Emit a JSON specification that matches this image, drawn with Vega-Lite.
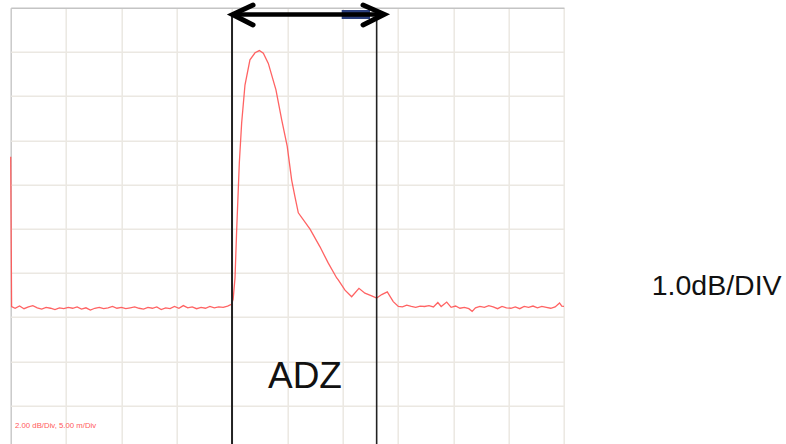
{
  "$schema": "https://vega.github.io/schema/vega-lite/v6.json",
  "width": 553.3,
  "height": 442,
  "autosize": {"type": "none"},
  "padding": {"left": 10.7, "top": 7.7, "right": 222, "bottom": 0},
  "background": "white",
  "config": {"view": {"stroke": null}},
  "datasets": {
    "trace": [
      {"x": 0.0, "d": 6.63}, {"x": 0.08, "d": 3.24}, {"x": 0.4, "d": 3.2}, {"x": 0.8, "d": 3.25}, {"x": 1.2, "d": 3.19},
      {"x": 1.6, "d": 3.23}, {"x": 2.0, "d": 3.26}, {"x": 2.4, "d": 3.21}, {"x": 2.8, "d": 3.18}, {"x": 3.2, "d": 3.22},
      {"x": 3.6, "d": 3.2}, {"x": 4.0, "d": 3.17}, {"x": 4.4, "d": 3.21}, {"x": 4.8, "d": 3.19}, {"x": 5.2, "d": 3.22},
      {"x": 5.6, "d": 3.2}, {"x": 6.0, "d": 3.23}, {"x": 6.4, "d": 3.18}, {"x": 6.8, "d": 3.21}, {"x": 7.2, "d": 3.16},
      {"x": 7.6, "d": 3.2}, {"x": 8.0, "d": 3.22}, {"x": 8.4, "d": 3.19}, {"x": 8.8, "d": 3.21}, {"x": 9.2, "d": 3.24},
      {"x": 9.6, "d": 3.2}, {"x": 10.0, "d": 3.22}, {"x": 10.4, "d": 3.19}, {"x": 10.8, "d": 3.21}, {"x": 11.2, "d": 3.23},
      {"x": 11.6, "d": 3.2}, {"x": 12.0, "d": 3.18}, {"x": 12.4, "d": 3.22}, {"x": 12.8, "d": 3.2}, {"x": 13.2, "d": 3.23},
      {"x": 13.6, "d": 3.17}, {"x": 14.0, "d": 3.21}, {"x": 14.4, "d": 3.19}, {"x": 14.8, "d": 3.24}, {"x": 15.2, "d": 3.2},
      {"x": 15.6, "d": 3.26}, {"x": 16.0, "d": 3.21}, {"x": 16.4, "d": 3.23}, {"x": 16.8, "d": 3.19}, {"x": 17.2, "d": 3.22},
      {"x": 17.6, "d": 3.2}, {"x": 18.0, "d": 3.24}, {"x": 18.4, "d": 3.21}, {"x": 18.8, "d": 3.23}, {"x": 19.2, "d": 3.22},
      {"x": 19.6, "d": 3.25}, {"x": 19.95, "d": 3.29}, {"x": 20.1, "d": 3.4}, {"x": 20.27, "d": 3.885}, {"x": 20.42, "d": 4.97},
      {"x": 20.66, "d": 6.49}, {"x": 20.87, "d": 7.39}, {"x": 21.17, "d": 8.25}, {"x": 21.62, "d": 8.82}, {"x": 22.08, "d": 8.98},
      {"x": 22.47, "d": 9.03}, {"x": 22.83, "d": 8.97}, {"x": 23.28, "d": 8.74}, {"x": 23.97, "d": 8.14}, {"x": 24.49, "d": 7.46},
      {"x": 24.99, "d": 6.86}, {"x": 25.39, "d": 6.1}, {"x": 25.69, "d": 5.72}, {"x": 25.99, "d": 5.36}, {"x": 27.05, "d": 4.99},
      {"x": 27.95, "d": 4.59}, {"x": 28.7, "d": 4.22}, {"x": 29.46, "d": 3.885}, {"x": 29.6, "d": 3.84}, {"x": 30.21, "d": 3.61},
      {"x": 30.81, "d": 3.46}, {"x": 31.47, "d": 3.65}, {"x": 32.01, "d": 3.54}, {"x": 32.62, "d": 3.48}, {"x": 33.07, "d": 3.43},
      {"x": 33.53, "d": 3.51}, {"x": 34.03, "d": 3.57}, {"x": 34.57, "d": 3.35}, {"x": 35.03, "d": 3.24}, {"x": 35.4, "d": 3.23},
      {"x": 35.79, "d": 3.27}, {"x": 36.2, "d": 3.24}, {"x": 36.6, "d": 3.22}, {"x": 37.0, "d": 3.25}, {"x": 37.4, "d": 3.24},
      {"x": 37.8, "d": 3.26}, {"x": 38.2, "d": 3.23}, {"x": 38.6, "d": 3.33}, {"x": 38.9, "d": 3.24}, {"x": 39.4, "d": 3.34},
      {"x": 39.8, "d": 3.22}, {"x": 40.2, "d": 3.25}, {"x": 40.6, "d": 3.2}, {"x": 41.0, "d": 3.22}, {"x": 41.4, "d": 3.19},
      {"x": 41.7, "d": 3.13}, {"x": 42.0, "d": 3.21}, {"x": 42.4, "d": 3.24}, {"x": 42.8, "d": 3.22}, {"x": 43.2, "d": 3.26},
      {"x": 43.6, "d": 3.23}, {"x": 44.0, "d": 3.19}, {"x": 44.4, "d": 3.24}, {"x": 44.8, "d": 3.21}, {"x": 45.2, "d": 3.2},
      {"x": 45.6, "d": 3.23}, {"x": 46.0, "d": 3.19}, {"x": 46.4, "d": 3.24}, {"x": 46.8, "d": 3.22}, {"x": 47.2, "d": 3.25},
      {"x": 47.6, "d": 3.21}, {"x": 48.0, "d": 3.24}, {"x": 48.4, "d": 3.22}, {"x": 48.8, "d": 3.2}, {"x": 49.2, "d": 3.23},
      {"x": 49.6, "d": 3.32}, {"x": 49.8, "d": 3.25}, {"x": 50.0, "d": 3.24}
    ],
    "cursors": [
      {"x": 20.0, "top": 9.81, "bottom": -0.3, "c": "left"},
      {"x": 33.07, "top": 9.78, "bottom": -0.3, "c": "right"}
    ],
    "heads": [
      {"g": "L", "o": 1, "x": 21.9, "d": 10.06},
      {"g": "L", "o": 2, "x": 20.05, "d": 9.846},
      {"g": "L", "o": 3, "x": 21.9, "d": 9.61},
      {"g": "R", "o": 1, "x": 31.84, "d": 10.06},
      {"g": "R", "o": 2, "x": 33.75, "d": 9.85},
      {"g": "R", "o": 3, "x": 31.84, "d": 9.61}
    ]
  },
  "layer": [
    {
      "data": {"name": "trace"},
      "mark": {"type": "line", "color": "#ff5252", "strokeWidth": 1.3, "opacity": 0.9},
      "encoding": {
        "x": {
          "field": "x", "type": "quantitative",
          "scale": {"domain": [0, 50], "nice": false, "zero": false},
          "axis": {
            "values": [0, 5, 10, 15, 20, 25, 30, 35, 40, 45, 50],
            "labels": false, "ticks": false, "domain": false, "title": null,
            "grid": true, "gridWidth": 1.5,
            "gridColor": {"condition": {"test": "datum.value === 0", "value": "#c9c9c9"}, "value": "#ebe8e2"}
          }
        },
        "y": {
          "field": "d", "type": "quantitative",
          "scale": {"domain": [0, 10], "nice": false, "zero": false},
          "axis": {
            "values": [0, 1, 2, 3, 4, 5, 6, 7, 8, 9, 10],
            "labels": false, "ticks": false, "domain": false, "title": null,
            "grid": true, "gridWidth": 1.5,
            "gridColor": {"condition": {"test": "datum.value === 10", "value": "#c4c4c4"}, "value": "#ebe8e2"}
          }
        }
      }
    },
    {
      "data": {"name": "cursors"},
      "mark": {"type": "rule", "color": "#222222"},
      "encoding": {
        "x": {"field": "x", "type": "quantitative"},
        "y": {"field": "top", "type": "quantitative"},
        "y2": {"field": "bottom"},
        "strokeWidth": {"field": "c", "type": "nominal", "scale": {"domain": ["left", "right"], "range": [2, 1.6]}, "legend": null}
      }
    },
    {
      "data": {"values": [{"x1": 29.91, "x2": 32.47, "y1": 9.948, "y2": 9.744}]},
      "mark": {"type": "rect", "color": "#2b3f7e"},
      "encoding": {
        "x": {"field": "x1", "type": "quantitative"},
        "x2": {"field": "x2"},
        "y": {"field": "y1", "type": "quantitative"},
        "y2": {"field": "y2"}
      }
    },
    {
      "data": {"values": [{"x1": 20.2, "x2": 33.4, "d": 9.846}]},
      "mark": {"type": "rule", "color": "black", "strokeWidth": 4.5},
      "encoding": {
        "x": {"field": "x1", "type": "quantitative"},
        "x2": {"field": "x2"},
        "y": {"field": "d", "type": "quantitative"}
      }
    },
    {
      "data": {"name": "heads"},
      "mark": {"type": "line", "color": "black", "strokeWidth": 5, "strokeCap": "round", "strokeJoin": "miter"},
      "encoding": {
        "x": {"field": "x", "type": "quantitative"},
        "y": {"field": "d", "type": "quantitative"},
        "detail": {"field": "g"},
        "order": {"field": "o", "type": "quantitative"}
      }
    },
    {
      "data": {"values": [{"x": 26.59, "d": 1.389, "t": "ADZ"}]},
      "mark": {"type": "text", "font": "Liberation Sans", "fontSize": 37, "align": "center", "baseline": "alphabetic", "color": "#111111"},
      "encoding": {
        "x": {"field": "x", "type": "quantitative"},
        "y": {"field": "d", "type": "quantitative"},
        "text": {"field": "t"}
      }
    },
    {
      "data": {"values": [{"x": 57.93, "d": 3.5, "t": "1.0dB/DIV"}]},
      "mark": {"type": "text", "font": "Liberation Sans", "fontSize": 28.5, "align": "left", "baseline": "alphabetic", "color": "#111111"},
      "encoding": {
        "x": {"field": "x", "type": "quantitative"},
        "y": {"field": "d", "type": "quantitative"},
        "text": {"field": "t"}
      }
    },
    {
      "data": {"values": [{"x": 0.39, "d": 0.49, "t": "2.00 dB/Div, 5.00 m/Div"}]},
      "mark": {"type": "text", "font": "Liberation Sans", "fontSize": 7.8, "align": "left", "baseline": "alphabetic", "color": "#ff5a5a"},
      "encoding": {
        "x": {"field": "x", "type": "quantitative"},
        "y": {"field": "d", "type": "quantitative"},
        "text": {"field": "t"}
      }
    }
  ]
}
